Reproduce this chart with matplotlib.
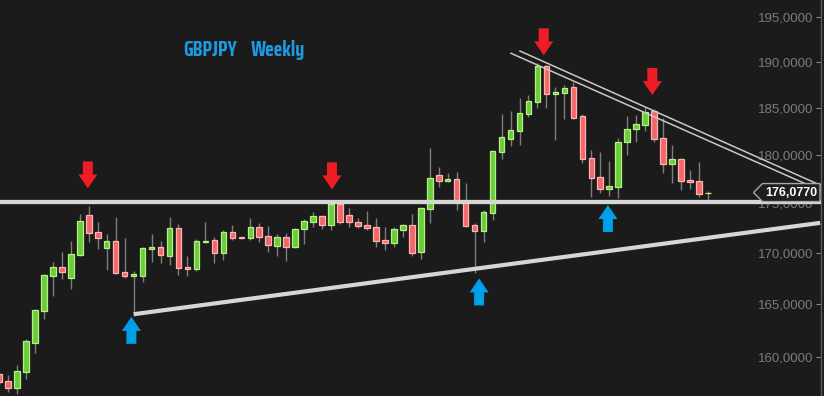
import matplotlib
matplotlib.use('Agg')
import matplotlib.pyplot as plt
import matplotlib.ticker as ticker
import matplotlib.transforms as mtransforms
from matplotlib.patches import Polygon
import numpy as np

BG = '#1c1b1b'
UP_FILL = '#69cc3a'
UP_EDGE = '#b5f283'
DOWN_FILL = '#f26767'
DOWN_EDGE = '#ffb3b3'
WICK = '#7d7d7d'
LINE = '#d6d6d6'
RED = '#ee1d25'
BLUE = '#00a0e6'

# weekly GBPJPY candles
opens = [158.43, 157.79, 157.14, 158.62, 161.32, 164.34, 167.73, 168.61, 167.54, 169.79,
         173.79, 172.08, 170.48, 171.18, 168.12, 167.73, 167.73, 170.38, 170.58, 169.69,
         172.48, 168.61, 168.41, 171.08, 171.28, 169.99, 172.08, 171.58, 171.48, 172.58,
         171.68, 170.68, 171.58, 170.58, 172.38, 173.08, 173.69, 172.78, 174.90, 173.79,
         173.08, 172.78, 172.58, 171.28, 170.98, 172.28, 172.78, 170.08, 174.39, 177.88,
         177.26, 177.46, 175.21, 172.78, 172.18, 173.99, 180.27, 181.65, 182.49, 184.30,
         185.59, 189.52, 186.46, 186.57, 187.22, 184.09, 179.65, 177.67, 176.43, 176.64,
         181.33, 182.70, 183.13, 184.62, 181.75, 179.02, 179.54, 177.36, 177.26, 176.00]
highs = [158.62, 158.34, 159.27, 161.69, 164.55, 167.92, 169.10, 170.08, 171.18, 173.89,
         174.70, 173.08, 171.88, 173.58, 171.48, 168.21, 170.58, 171.88, 171.18, 173.58,
         172.88, 169.69, 171.38, 173.08, 171.58, 172.28, 172.78, 171.63, 173.48, 172.98,
         172.68, 171.88, 171.98, 172.48, 173.38, 174.09, 173.79, 175.31, 175.00, 174.50,
         173.48, 174.19, 173.48, 172.58, 172.58, 172.88, 173.89, 174.60, 180.69, 178.71,
         178.09, 178.19, 177.05, 172.98, 174.29, 180.48, 184.30, 184.62, 186.03, 186.35,
         189.85, 189.63, 187.22, 187.44, 187.76, 184.30, 180.48, 180.27, 179.33, 181.75,
         184.09, 184.19, 185.06, 184.84, 183.87, 181.01, 179.65, 178.40, 179.23, 176.23]
lows = [157.42, 156.78, 156.60, 157.97, 160.38, 163.58, 165.79, 167.44, 166.47, 169.69,
        171.08, 170.38, 168.31, 167.95, 167.54, 163.90, 167.15, 169.10, 169.00, 168.80,
        167.82, 167.73, 168.21, 170.98, 169.00, 169.30, 171.28, 171.43, 171.28, 171.08,
        170.08, 169.69, 169.20, 170.50, 170.88, 172.58, 172.38, 172.28, 172.88, 172.58,
        172.48, 172.28, 170.58, 170.28, 170.58, 171.58, 169.69, 169.40, 172.98, 176.64,
        177.16, 174.29, 172.58, 168.02, 171.08, 173.28, 179.54, 180.90, 181.01, 183.98,
        184.95, 184.95, 181.54, 183.77, 183.77, 179.13, 175.62, 176.02, 175.72, 175.52,
        179.96, 181.33, 182.49, 181.33, 178.09, 177.05, 176.33, 176.43, 175.62, 175.31]
closes = [157.70, 157.14, 158.71, 161.51, 164.44, 167.82, 168.61, 168.12, 169.89, 173.18,
          171.98, 171.48, 171.18, 168.02, 167.73, 167.92, 170.48, 170.58, 169.79, 172.48,
          168.51, 168.41, 171.18, 171.18, 169.99, 172.08, 171.48, 171.48, 172.58, 171.58,
          170.78, 171.58, 170.58, 172.38, 173.18, 173.69, 172.78, 174.90, 173.08, 173.08,
          172.68, 172.48, 171.18, 170.98, 172.38, 172.78, 169.99, 174.50, 177.57, 177.26,
          177.46, 175.21, 172.68, 172.18, 174.09, 180.38, 181.86, 182.60, 184.41, 185.70,
          189.52, 186.46, 186.67, 187.11, 183.87, 179.54, 177.57, 176.43, 176.74, 181.33,
          182.70, 183.23, 184.51, 181.65, 179.02, 179.54, 177.26, 177.16, 175.92, 176.08]

last_price = 176.077
y_ticks = [160, 165, 170, 175, 180, 185, 190, 195]

# drawn levels and trend lines (candle index, price)
resistance = 175.1
support_x = [15, 91.5]
support_y = [164.05, 173.0]
channel_top_x = [58.05, 91.5]
channel_top_y = [191.18, 176.84]
channel_bot_x = [57.05, 91.5]
channel_bot_y = [190.93, 176.31]

red_arrows = [(9.9, 176.5), (37.1, 176.4), (60.7, 190.7), (72.8, 186.35)]
blue_arrows = [(14.75, 163.8), (53.5, 167.5), (67.85, 174.8)]


def fmt_price(v):
    return f'{v:.4f}'.replace('.', ',')


def draw_candles(ax):
    x = np.arange(len(opens))
    o = np.array(opens)
    c = np.array(closes)
    up = c >= o
    bottom = np.minimum(o, c)
    height = np.maximum(np.abs(c - o), 0.06)
    ax.vlines(x, lows, highs, color=WICK, lw=1, zorder=2)
    ax.bar(x[up], height[up], bottom=bottom[up], width=0.62, color=UP_FILL,
           edgecolor=UP_EDGE, linewidth=0.9, zorder=3)
    ax.bar(x[~up], height[~up], bottom=bottom[~up], width=0.62, color=DOWN_FILL,
           edgecolor=DOWN_EDGE, linewidth=0.9, zorder=3)


def draw_arrow(ax, x, y, color, down):
    tx, ty = ax.transData.transform((x, y))
    s = 1 if down else -1
    pts = [(0, 0), (9.5, 14), (5, 14), (5, 27), (-5, 27), (-5, 14), (-9.5, 14)]
    verts = [(tx + dx, ty + s * dy) for dx, dy in pts]
    ax.add_patch(Polygon(verts, closed=True, facecolor=color, edgecolor='none',
                         transform=mtransforms.IdentityTransform(), zorder=8))


def draw_price_tag(ax):
    right, yc = ax.get_yaxis_transform().transform((1.0, last_price))
    verts = [(right - 67, yc), (right - 58, yc + 9), (right - 0.5, yc + 9),
             (right - 0.5, yc - 9), (right - 58, yc - 9)]
    ax.add_patch(Polygon(verts, closed=True, facecolor='#1f1e1e', edgecolor='#a8a8a8',
                         lw=1, transform=mtransforms.IdentityTransform(), zorder=9,
                         clip_on=False))
    ax.annotate(fmt_price(last_price), xy=(1.0, last_price), xycoords=ax.get_yaxis_transform(),
                xytext=(-21, 0), textcoords='offset points', ha='center', va='center',
                color='white', fontsize=9, fontweight='bold', family='Liberation Sans',
                zorder=10)


fig = plt.figure(figsize=(8.24, 3.96), dpi=100)
fig.patch.set_facecolor(BG)
ax = fig.add_axes([0, 0, 820.5 / 824, 1])
ax.set_facecolor(BG)
ax.set_yscale('log')
ax.set_ylim(156.43, 196.94)
ax.set_xlim(0.11, 91.54)

draw_candles(ax)

ax.axhline(resistance, color=LINE, lw=3.1, zorder=6)
ax.plot(support_x, support_y, color=LINE, lw=3.0, zorder=6, solid_capstyle='butt')
ax.plot(channel_top_x, channel_top_y, color='#c8c8c8', lw=1.1, zorder=6)
ax.plot(channel_bot_x, channel_bot_y, color='#c8c8c8', lw=1.1, zorder=6)

# axis on the right, labels drawn inside the plot
ax.yaxis.tick_right()
ax.yaxis.set_minor_locator(ticker.NullLocator())
ax.set_yticks(y_ticks)
ax.set_yticklabels([fmt_price(v) for v in y_ticks], ha='right', family='Liberation Sans')
ax.tick_params(axis='y', direction='in', length=3.6, width=0.8, color='#8a8a8a',
               labelcolor='#7b7b7b', labelsize=9.5, pad=-5)
ax.set_xticks([])
for side in ['left', 'top', 'bottom']:
    ax.spines[side].set_visible(False)
ax.spines['right'].set_color('#5a5a5a')
ax.spines['right'].set_linewidth(1)

for x, y in red_arrows:
    draw_arrow(ax, x, y, RED, True)
for x, y in blue_arrows:
    draw_arrow(ax, x, y, BLUE, False)

draw_price_tag(ax)

title_font = ['Saira Condensed', 'Oswald', 'DejaVu Sans']
fig.text(183 / 824, 1 - 56 / 396, 'GBPJPY', color='#1b9be3', fontsize=14.5,
         fontweight='bold', family=title_font, va='baseline')
fig.text(251 / 824, 1 - 56 / 396, 'Weekly', color='#1b9be3', fontsize=14.5,
         fontweight='bold', family=title_font, va='baseline')

fig.savefig('out.png', dpi=100, facecolor=BG)
